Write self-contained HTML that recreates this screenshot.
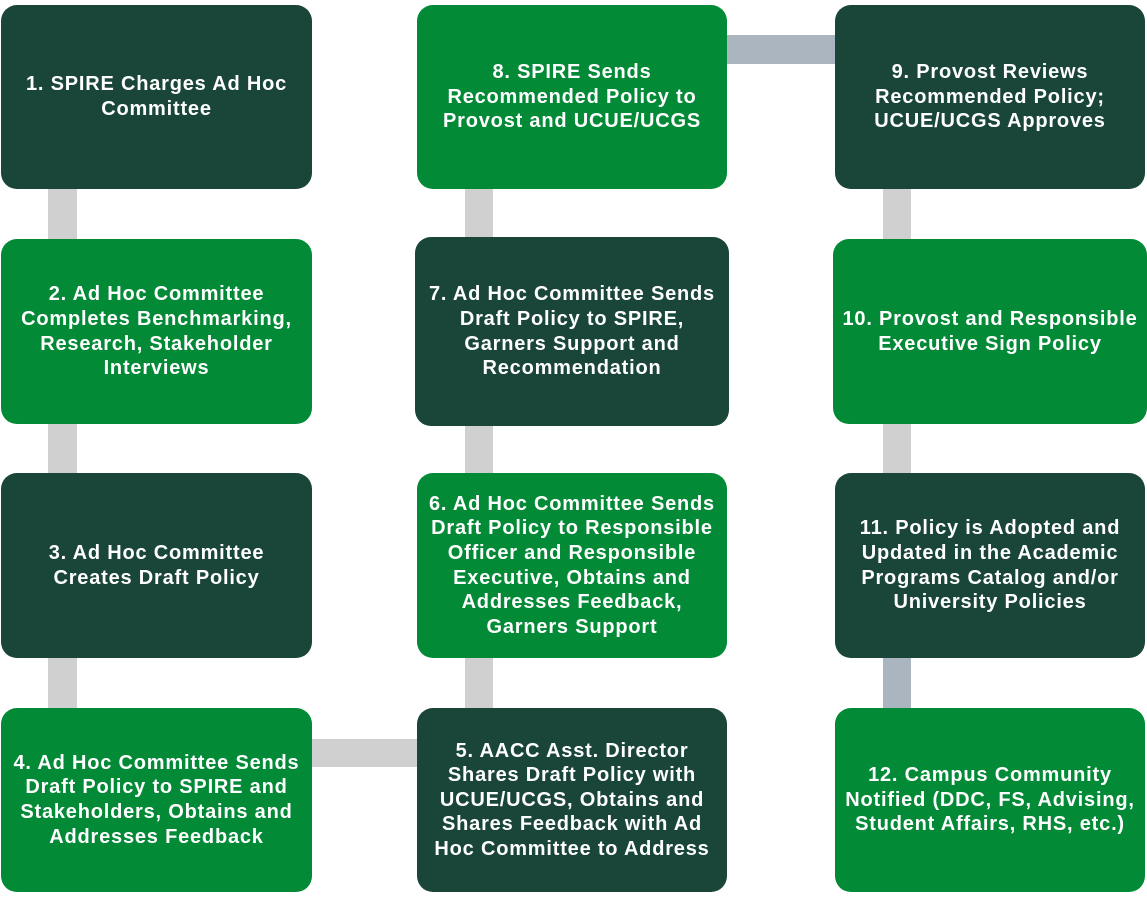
<!DOCTYPE html>
<html><head><style>
body{margin:0;width:1147px;height:899px;background:#fff;position:relative;overflow:hidden;font-family:"Liberation Sans",Arial,sans-serif}
.b{position:absolute;border-radius:16px;color:#fff;font-weight:bold;font-size:20px;letter-spacing:0.8px;line-height:24.6px;text-align:center;display:flex;align-items:center;justify-content:center;box-sizing:border-box;padding:0 2px;white-space:nowrap}
.d{background:#1a4539}.g{background:#028a36}
.c{position:absolute;background:#d0d0d0}.s{background:#aab5c0}
</style></head><body>
<div class="c" style="left:48px;top:189px;width:29px;height:50px"></div>
<div class="c" style="left:48px;top:424px;width:29px;height:49px"></div>
<div class="c" style="left:48px;top:658px;width:29px;height:50px"></div>
<div class="c" style="left:465px;top:189px;width:28px;height:50px"></div>
<div class="c" style="left:465px;top:424px;width:28px;height:49px"></div>
<div class="c" style="left:465px;top:658px;width:28px;height:50px"></div>
<div class="c" style="left:883px;top:189px;width:28px;height:50px"></div>
<div class="c" style="left:883px;top:424px;width:28px;height:49px"></div>
<div class="c s" style="left:883px;top:658px;width:28px;height:50px"></div>
<div class="c" style="left:312px;top:739px;width:105px;height:28px"></div>
<div class="c s" style="left:727px;top:35px;width:108px;height:29px"></div>

<div class="b d" style="left:1px;top:5px;width:311px;height:184px">1. SPIRE Charges Ad Hoc<br>Committee</div>
<div class="b g" style="left:1px;top:239px;width:311px;height:185px">2. Ad Hoc Committee<br>Completes Benchmarking,<br>Research, Stakeholder<br>Interviews</div>
<div class="b d" style="left:1px;top:473px;width:311px;height:185px">3. Ad Hoc Committee<br>Creates Draft Policy</div>
<div class="b g" style="left:1px;top:708px;width:311px;height:184px">4. Ad Hoc Committee Sends<br>Draft Policy to SPIRE and<br>Stakeholders, Obtains and<br>Addresses Feedback</div>

<div class="b g" style="left:417px;top:5px;width:310px;height:184px">8. SPIRE Sends<br>Recommended Policy to<br>Provost and UCUE/UCGS</div>
<div class="b d" style="left:415px;top:237px;width:314px;height:189px">7. Ad Hoc Committee Sends<br>Draft Policy to SPIRE,<br>Garners Support and<br>Recommendation</div>
<div class="b g" style="left:417px;top:473px;width:310px;height:185px">6. Ad Hoc Committee Sends<br>Draft Policy to Responsible<br>Officer and Responsible<br>Executive, Obtains and<br>Addresses Feedback,<br>Garners Support</div>
<div class="b d" style="left:417px;top:708px;width:310px;height:184px">5. AACC Asst. Director<br>Shares Draft Policy with<br>UCUE/UCGS, Obtains and<br>Shares Feedback with Ad<br>Hoc Committee to Address</div>

<div class="b d" style="left:835px;top:5px;width:310px;height:184px">9. Provost Reviews<br>Recommended Policy;<br>UCUE/UCGS Approves</div>
<div class="b g" style="left:833px;top:239px;width:314px;height:185px">10. Provost and Responsible<br>Executive Sign Policy</div>
<div class="b d" style="left:835px;top:473px;width:310px;height:185px">11. Policy is Adopted and<br>Updated in the Academic<br>Programs Catalog and/or<br>University Policies</div>
<div class="b g" style="left:835px;top:708px;width:310px;height:184px">12. Campus Community<br>Notified (DDC, FS, Advising,<br>Student Affairs, RHS, etc.)</div>
</body></html>
